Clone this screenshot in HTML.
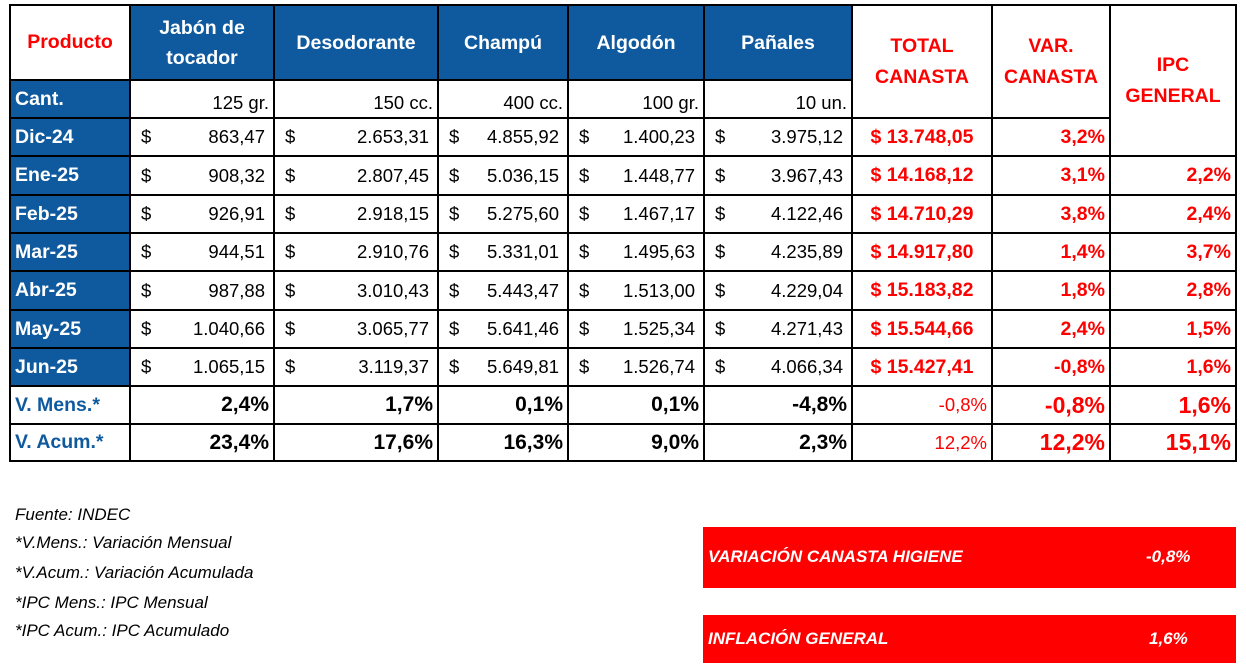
<!DOCTYPE html>
<html><head><meta charset="utf-8"><style>
body{margin:0;width:1246px;height:667px;background:#fff;position:relative;overflow:hidden;font-family:"Liberation Sans",sans-serif;}
.c{position:absolute;box-sizing:border-box;border:2px solid #000;display:flex;align-items:center;font-size:18.5px;white-space:nowrap;}
.blue{background:#0f5a9e;color:#fff;font-weight:bold;}
.note{position:absolute;left:15px;font-style:italic;font-size:17px;color:#000;}
.box{position:absolute;left:703px;width:533px;background:#ff0000;color:#fff;font-style:italic;font-weight:bold;font-size:17px;}
.box span{position:absolute;}
</style></head><body>
<div id="tbl"></div>
<div class="note" style="top:505px">Fuente: INDEC</div>
<div class="note" style="top:533px">*V.Mens.: Variación Mensual</div>
<div class="note" style="top:563px">*V.Acum.: Variación Acumulada</div>
<div class="note" style="top:593px">*IPC Mens.: IPC Mensual</div>
<div class="note" style="top:621px">*IPC Acum.: IPC Acumulado</div>
<div class="box" style="top:527px;height:61px"><span style="left:5px;top:20px">VARIACIÓN CANASTA HIGIENE</span><span style="left:443px;top:20px">-0,8%</span></div>
<div class="box" style="top:615px;height:48px"><span style="left:5px;top:14px">INFLACIÓN GENERAL</span><span style="left:446px;top:14px">1,6%</span></div>
<script>
const products=["Jabón de<br>tocador","Desodorante","Champú","Algodón","Pañales"];
const units=["125 gr.","150 cc.","400 cc.","100 gr.","10 un."];
const months=["Dic-24","Ene-25","Feb-25","Mar-25","Abr-25","May-25","Jun-25"];
const prices=[
["863,47","2.653,31","4.855,92","1.400,23","3.975,12"],
["908,32","2.807,45","5.036,15","1.448,77","3.967,43"],
["926,91","2.918,15","5.275,60","1.467,17","4.122,46"],
["944,51","2.910,76","5.331,01","1.495,63","4.235,89"],
["987,88","3.010,43","5.443,47","1.513,00","4.229,04"],
["1.040,66","3.065,77","5.641,46","1.525,34","4.271,43"],
["1.065,15","3.119,37","5.649,81","1.526,74","4.066,34"]];
const totals=["13.748,05","14.168,12","14.710,29","14.917,80","15.183,82","15.544,66","15.427,41"];
const varCanasta=["3,2%","3,1%","3,8%","1,4%","1,8%","2,4%","-0,8%"];
const ipc=["","2,2%","2,4%","3,7%","2,8%","1,5%","1,6%"];
const vMens=["2,4%","1,7%","0,1%","0,1%","-4,8%","-0,8%","-0,8%","1,6%"];
const vAcum=["23,4%","17,6%","16,3%","9,0%","2,3%","12,2%","12,2%","15,1%"];
const X=[10,130,274,438,568,704,852,992,1110,1236];
const Y=[5,80,118,156,195,233,271,310,348,386,424,461];
const T=document.getElementById('tbl');
function cell(c0,c1,r0,r1,html,cls,style,name){
 const d=document.createElement('div');
 d.className='c '+(cls||'');
 d.style.left=(X[c0]-1)+'px';d.style.width=(X[c1]-X[c0]+2)+'px';
 d.style.top=(Y[r0]-1)+'px';d.style.height=(Y[r1]-Y[r0]+2)+'px';
 if(style)d.style.cssText+=style;
 d.innerHTML=html;
 
 
 T.appendChild(d);return d;
}
cell(0,1,0,1,'Producto','', 'color:#f00;font-weight:bold;justify-content:center;font-size:19.5px;','header-producto');
products.forEach((p,i)=>cell(i+1,i+2,0,1,p,'blue','justify-content:center;text-align:center;line-height:30px;font-size:19.5px;','header-product-'+i));
cell(6,7,0,2,'TOTAL<br>CANASTA','','color:#f00;font-weight:bold;justify-content:center;text-align:center;line-height:31px;font-size:19.5px;','header-total');
cell(7,8,0,2,'VAR.<br>CANASTA','','color:#f00;font-weight:bold;justify-content:center;text-align:center;line-height:31px;font-size:19.5px;','header-var');
cell(8,9,0,3,'IPC<br>GENERAL','','color:#f00;font-weight:bold;justify-content:center;text-align:center;line-height:31px;font-size:19.5px;','header-ipc');
cell(0,1,1,2,'Cant.','blue','padding-left:4px;font-size:19.5px;','row-label-cant');
units.forEach((u,i)=>cell(i+1,i+2,1,2,u,'','justify-content:flex-end;padding-right:4px;align-items:flex-end;padding-bottom:3px;','unit-'+i));
months.forEach((m,r)=>{
 cell(0,1,r+2,r+3,m,'blue','padding-left:4px;font-size:19.5px;','row-label-'+m);
 prices[r].forEach((v,i)=>cell(i+1,i+2,r+2,r+3,'<span style="position:absolute;left:10px">$</span>'+v,'','justify-content:flex-end;padding-right:8px;','price-'+m+'-'+i));
 cell(6,7,r+2,r+3,'$ '+totals[r],'','color:#f00;font-weight:bold;justify-content:center;font-size:19.5px;','total-'+m);
 cell(7,8,r+2,r+3,varCanasta[r],'','color:#f00;font-weight:bold;justify-content:flex-end;padding-right:4px;font-size:19.5px;','var-'+m);
 if(r>0)cell(8,9,r+2,r+3,ipc[r],'','color:#f00;font-weight:bold;justify-content:flex-end;padding-right:4px;font-size:19.5px;','ipc-'+m);
});
[[vMens,'V. Mens.*',9],[vAcum,'V. Acum.*',10]].forEach(([arr,lab,r])=>{
 cell(0,1,r,r+1,lab,'','color:#0f5a9e;font-weight:bold;padding-left:4px;font-size:19.5px;','row-label-'+r);
 arr.forEach((v,i)=>{
  let st='justify-content:flex-end;padding-right:4px;font-weight:bold;';
  if(i<5)st+='font-size:21px;';
  else if(i==5)st+='color:#f00;font-weight:normal;font-size:18.5px;';
  else st+='color:#f00;font-size:23px;';
  cell(i+1,i+2,r,r+1,v,'',st,'summary-'+r+'-'+i);
 });
});
</script>
</body></html>
